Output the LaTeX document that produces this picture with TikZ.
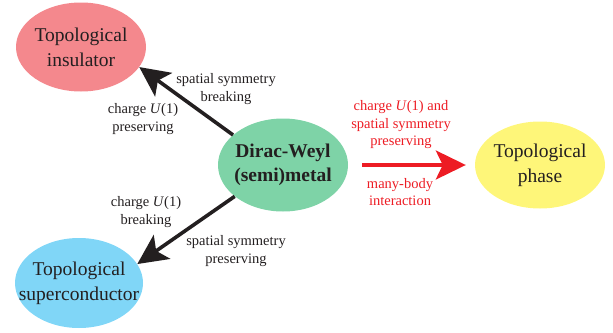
\documentclass[tikz,border=0pt]{standalone}
\usepackage{fontspec}
\setmainfont{Liberation Serif}
\usetikzlibrary{shapes.geometric,arrows.meta}
\definecolor{tipink}{RGB}{244,136,141}
\definecolor{dwgreen}{RGB}{126,211,167}
\definecolor{tpyellow}{RGB}{254,246,121}
\definecolor{tsblue}{RGB}{128,214,247}
\definecolor{arrred}{RGB}{237,28,36}
\definecolor{txt}{RGB}{35,31,32}
\tikzset{
  blob/.style={ellipse, inner sep=0pt, minimum width=130pt, minimum height=89pt},
  blobtext/.style={align=center, text=txt, inner sep=0pt, font=\fontsize{19.5}{25}\selectfont},
  lbl/.style={align=center, text=txt, font=\fontsize{14.5}{17.5}\selectfont, inner sep=0pt},
  rlbl/.style={lbl, text=arrred},
  bigarrow/.style={line width=3.6pt, -{Stealth[length=30pt,width=29pt,inset=7pt]}},
}
\begin{document}
\begin{tikzpicture}[x=1pt,y=-1pt]
\useasboundingbox (0,0) rectangle (613,332);
\node[blob, fill=tipink] (ti) at (81,47) {};
\node[blobtext] (tit) at (ti) {Topological\\insulator};
\node[blob, fill=dwgreen, minimum height=93pt] (dw) at (283,165) {};
\node[blobtext, font=\fontsize{19.5}{24}\selectfont\bfseries] (dwt) at (dw) {Dirac-Weyl\\(semi)metal};
\node[blob, fill=tpyellow, minimum height=87pt] (tp) at (540,165) {};
\node[blobtext] (tpt) at (tp) {Topological\\phase};
\node[blob, fill=tsblue, minimum width=128pt, minimum height=90pt] (ts) at (79,283) {};
\node[blobtext] (tst) at (ts) {Topological\\superconductor};

\draw[bigarrow, txt] (dw.149) -- (ti.-19);
\draw[bigarrow, txt] (dw.-147) -- (ts.18);
\draw[bigarrow, arrred, shorten <=14pt, shorten >=9pt] (dw.east) -- (tp.west);

\node[lbl] (l1) at (226,89) {spatial symmetry\\breaking};
\node[lbl] (l2) at (143,119) {charge \textit{U}(1)\\preserving};
\node[lbl] (l3) at (146,212) {charge \textit{U}(1)\\breaking};
\node[lbl] (l4) at (236,251) {spatial symmetry\\preserving};
\node[rlbl] (l5) at (401,125) {charge \textit{U}(1) and\\spatial symmetry\\preserving};
\node[rlbl] (l6) at (400,192) {many-body\\interaction};
\end{tikzpicture}
\end{document}
